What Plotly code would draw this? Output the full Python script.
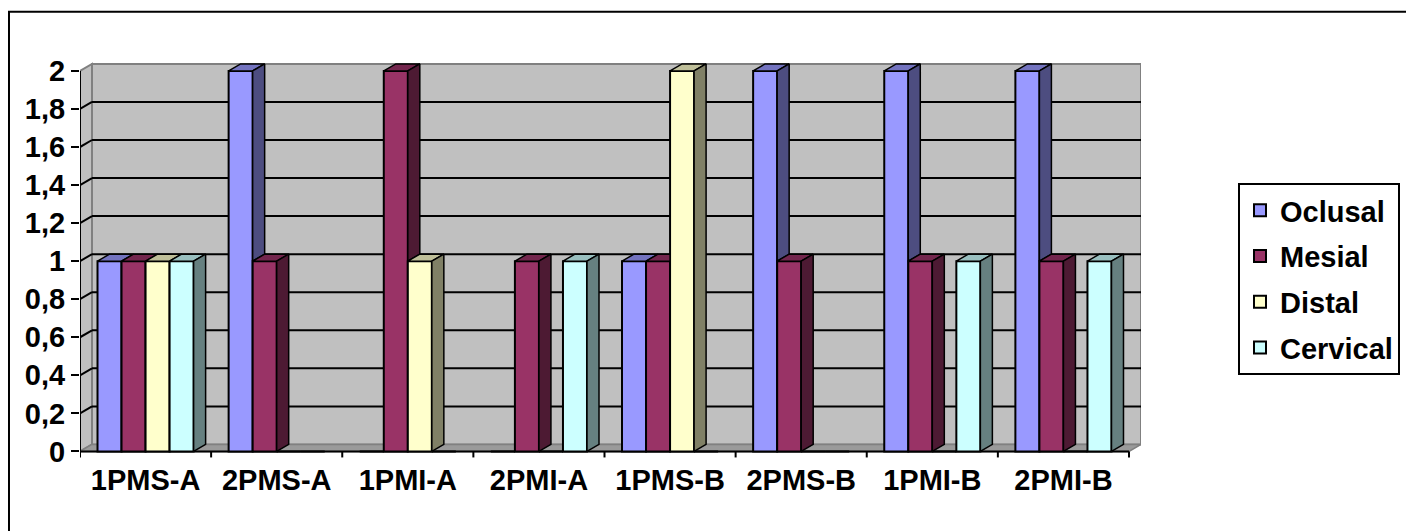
import plotly.graph_objects as go

# ---------------- data ----------------
categories = ["1PMS-A", "2PMS-A", "1PMI-A", "2PMI-A", "1PMS-B", "2PMS-B", "1PMI-B", "2PMI-B"]
series_names = ["Oclusal", "Mesial", "Distal", "Cervical"]
oclusal = [1, 2, 0, 0, 1, 2, 2, 2]
mesial = [1, 1, 2, 1, 1, 1, 1, 1]
distal = [1, 0, 1, 0, 2, 0, 0, 0]
cervical = [1, 0, 0, 1, 0, 0, 1, 1]
y_ticks = [0, 0.2, 0.4, 0.6, 0.8, 1.0, 1.2, 1.4, 1.6, 1.8, 2.0]

series_values = [oclusal, mesial, distal, cervical]

# ---------------- styles ----------------
front_colors = ["#9999FF", "#993366", "#FFFFCC", "#CCFFFF"]
top_colors = ["#7373BF", "#73264D", "#BFBF99", "#99BFBF"]
side_colors = ["#4D4D80", "#4D1A33", "#808066", "#668080"]
FONT = dict(family="Liberation Sans, Arial, sans-serif", size=29, color="black", weight="bold")

W, H = 1414, 531
OFF = 8  # page body margin
px_unit_x = 131.1
px_unit_y = 190.0
x0_px = 80 - OFF
y0_px = 451 - OFF
dx = 12 / px_unit_x
dy = 7 / px_unit_y
n = len(categories)
ymax = max(y_ticks)

xr = [-0.5, n - 0.5 + dx]
yr = [-0.045, ymax + dy + 0.01]
l = x0_px
plot_w = (xr[1] - xr[0]) * px_unit_x
r = W - l - plot_w
t = y0_px - yr[1] * px_unit_y
plot_h = (yr[1] - yr[0]) * px_unit_y
b = H - t - plot_h

G = 0.733
w = G / len(series_names)

fig = go.Figure()

# front faces (bars)
for i, (name, vals) in enumerate(zip(series_names, series_values)):
    fig.add_trace(go.Bar(
        x=list(range(n)), y=vals, name=name, width=w, offset=-G / 2 + i * w,
        marker=dict(color=front_colors[i], line=dict(color="black", width=2)),
        legendgroup=name, hoverinfo="skip",
    ))


def poly(pts, color):
    xs = [p[0] for p in pts] + [pts[0][0]]
    ys = [p[1] for p in pts] + [pts[0][1]]
    fig.add_trace(go.Scatter(
        x=xs, y=ys, mode="lines", fill="toself", fillcolor=color,
        line=dict(color="black", width=1.5), showlegend=False, hoverinfo="skip",
    ))


# top and side faces (3D effect)
for c in range(n):
    for i in range(len(series_names)):
        v = series_values[i][c]
        if v == 0:
            continue
        L = c - G / 2 + i * w
        R = L + w
        nv = series_values[i + 1][c] if i + 1 < len(series_names) else 0
        if nv > v:
            poly([(L, v), (R, v), (R, v + dy), (L + dx, v + dy)], top_colors[i])
        else:
            poly([(L, v), (R, v), (R + dx, v + dy), (L + dx, v + dy)], top_colors[i])
        if nv < v:
            base = nv
            poly([(R, base), (R, v), (R + dx, v + dy), (R + dx, base + dy)], side_colors[i])

shapes = []
xl, xrt = -0.5, n - 0.5
# side wall
shapes.append(dict(type="path", layer="below", xref="x", yref="y",
                   path=f"M{xl},0 L{xl+dx},{dy} L{xl+dx},{ymax+dy} L{xl},{ymax} Z",
                   fillcolor="#C0C0C0", line=dict(color="#808080", width=2)))
# back wall
shapes.append(dict(type="rect", layer="below", xref="x", yref="y",
                   x0=xl + dx, x1=xrt + dx, y0=dy, y1=ymax + dy,
                   fillcolor="#C0C0C0", line=dict(color="#808080", width=2)))
# gridlines on walls
for v in y_ticks[1:-1]:
    shapes.append(dict(type="line", layer="below", xref="x", yref="y",
                       x0=xl + dx, x1=xrt + dx, y0=v + dy, y1=v + dy,
                       line=dict(color="black", width=2)))
    shapes.append(dict(type="line", layer="below", xref="x", yref="y",
                       x0=xl, x1=xl + dx, y0=v, y1=v + dy,
                       line=dict(color="black", width=2)))
# floor
shapes.append(dict(type="path", layer="below", xref="x", yref="y",
                   path=f"M{xl},0 L{xrt},0 L{xrt+dx},{dy} L{xl+dx},{dy} Z",
                   fillcolor="#9A9A9A", line=dict(color="#808080", width=1.5)))
# axis lines
shapes.append(dict(type="line", layer="below", xref="x", yref="y",
                   x0=xl, x1=xl, y0=0, y1=ymax, line=dict(color="black", width=2)))
shapes.append(dict(type="line", layer="below", xref="x", yref="y",
                   x0=xl, x1=xrt, y0=0, y1=0, line=dict(color="black", width=2)))
# category boundary ticks
tick_len = 6 / px_unit_y
for k in range(n + 1):
    shapes.append(dict(type="line", layer="below", xref="x", yref="y",
                       x0=xl + k, x1=xl + k, y0=0, y1=-tick_len,
                       line=dict(color="black", width=2)))
# outer chart border (extends beyond the page on right/bottom)
bx, by = 8 - OFF + 1, 12 - OFF
shapes.append(dict(type="rect", layer="above", xref="paper", yref="paper",
                   x0=(bx - l) / plot_w, x1=(W + 50 - l) / plot_w,
                   y0=(t + plot_h - (H + 50)) / plot_h, y1=(t + plot_h - by) / plot_h,
                   line=dict(color="black", width=2), fillcolor="rgba(0,0,0,0)"))

fig.update_layout(
    width=W, height=H,
    margin=dict(l=l, r=r, t=t, b=b, pad=0),
    paper_bgcolor="white", plot_bgcolor="white",
    barmode="overlay",
    separators=",.",
    shapes=shapes,
    font=FONT,
    showlegend=True,
    legend=dict(
        xref="container", yref="container",
        x=(1238 - OFF) / W, y=1 - (183 - OFF) / H, xanchor="left", yanchor="top",
        bordercolor="black", borderwidth=2, bgcolor="white",
        font=FONT, tracegroupgap=5, traceorder="grouped",
    ),
    xaxis=dict(range=xr, tickmode="array", tickvals=list(range(n)), ticktext=categories,
               ticks="", showgrid=False, zeroline=False, showline=False,
               tickfont=FONT, fixedrange=True),
    yaxis=dict(range=yr, tickmode="array", tickvals=y_ticks,
               ticktext=[f"{v:g}".replace(".", ",") for v in y_ticks],
               ticks="outside", ticklen=8, tickwidth=2, tickcolor="black",
               showgrid=False, zeroline=False, showline=False,
               tickfont=FONT, fixedrange=True),
)

fig.write_html("out.html")
